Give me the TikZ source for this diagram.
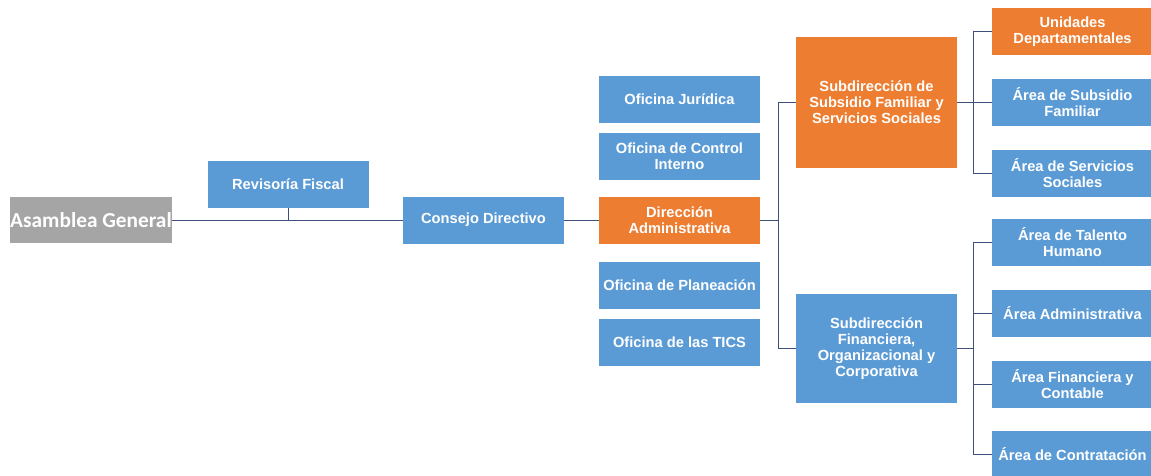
\documentclass[tikz,border=0pt]{standalone}
\usepackage{fontspec}
\setmainfont{Liberation Sans}
\newfontfamily\calibri{Carlito}
\usepackage{tikz}
\definecolor{azul}{HTML}{5B9BD5}
\definecolor{naranja}{HTML}{ED7D31}
\definecolor{gris}{HTML}{A5A5A5}
\definecolor{trazo}{HTML}{3E5079}

\begin{document}
\begin{tikzpicture}[x=0.75pt, y=-0.75pt,
        caja/.style={fill=azul, text=white, font=\bfseries\fontsize{11}{12}\selectfont, align=center,
            minimum width=120.75pt, minimum height=35.25pt, inner sep=0pt},
        destacada/.style={caja, fill=naranja},
        linea/.style={draw=trazo, line width=0.75pt}
    ]
                \useasboundingbox (0,0) rectangle (1151,475);
                \clip (0,0) rectangle (1151,475);

                \node[caja, fill=gris, minimum width=121.5pt, minimum height=34.5pt,
                    font=\calibri\bfseries\fontsize{16}{18}\selectfont] (asamblea) at (91,220) {Asamblea General};
                \node[caja] (revisoria) at (288,184.5) {Revisoría Fiscal};
                \node[caja] (consejo) at (483.5,220) {Consejo Directivo};

                \node[caja] (juridica) at (679.5,99.5) {Oficina Jurídica};
                \node[caja] (control) at (679.5,156) {Oficina de Control\\Interno};
                \node[destacada] (direccion) at (679.5,220) {Dirección\\Administrativa};
                \node[caja] (planeacion) at (679.5,285.5) {Oficina de Planeación};
                \node[caja] (tics) at (679.5,342) {Oficina de las TICS};

                \node[destacada, minimum height=98.25pt] (ssf) at (876.5,102.5) {Subdirección de\\Subsidio Familiar y\\Servicios Sociales};
                \node[caja, minimum height=81.75pt] (sfoc) at (876.5,348.5) {Subdirección\\Financiera,\\Organizacional y\\Corporativa};

                \node[destacada] (unidades) at (1072.5,31.5) {Unidades\\Departamentales};
                \node[caja] (subsidio) at (1072.5,102.5) {Área de Subsidio\\Familiar};
                \node[caja] (servicios) at (1072.5,173) {Área de Servicios\\Sociales};
                \node[caja] (talento) at (1072.5,242.5) {Área de Talento\\Humano};
                \node[caja] (administrativa) at (1072.5,313.5) {Área Administrativa};
                \node[caja] (financiera) at (1072.5,384) {Área Financiera y\\Contable};
                \node[caja] (contratacion) at (1072.5,454) {Área de Contratación};

                \coordinate (dbus) at (778,220);
                \coordinate (sbus) at (973,102.5);
                \coordinate (fbus) at (973,348.5);

                \draw[linea]
                (asamblea.east) -- (consejo.west)
                (revisoria.south) -- (revisoria.south |- asamblea.east)
                (consejo.east) -- (direccion.west)

                (direccion.east) -- (dbus)
                (ssf.west) -| (dbus)
                (sfoc.west) -| (dbus)

                (ssf.east) -- (subsidio.west)
                (unidades.west) -| (sbus)
                (servicios.west) -| (sbus)

                (sfoc.east) -- (fbus)
                (talento.west) -| (fbus)
                (contratacion.west) -| (fbus)
                (administrativa.west) -- (administrativa.west -| fbus)
                (financiera.west) -- (financiera.west -| fbus)
                ;
            \end{tikzpicture}
\end{document}
